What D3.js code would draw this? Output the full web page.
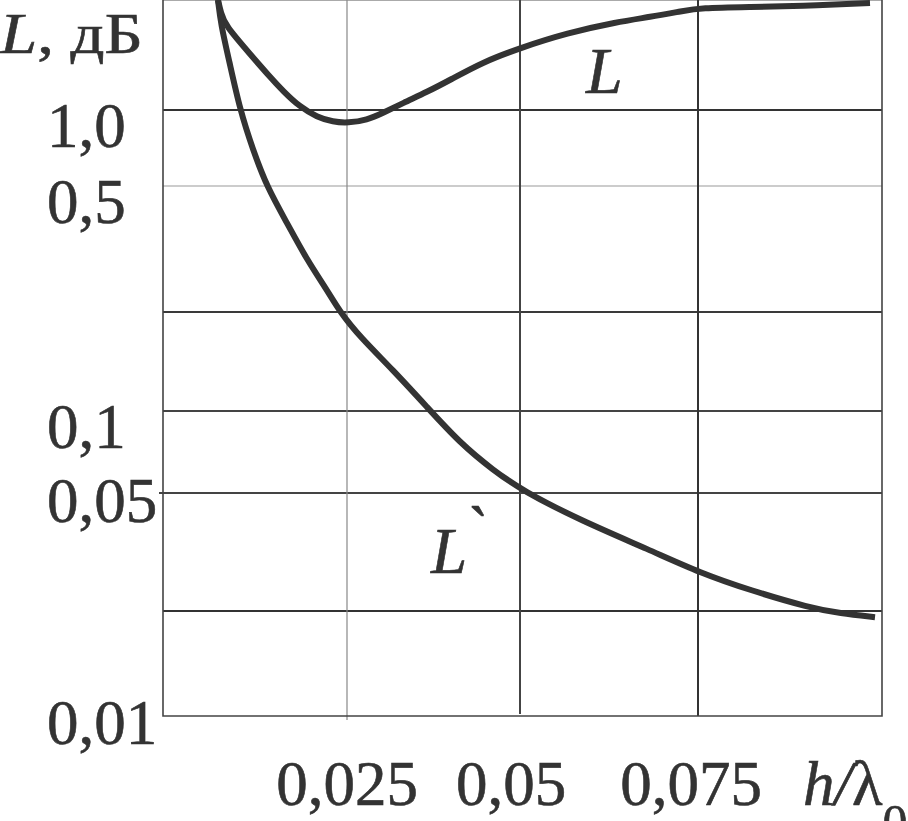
<!DOCTYPE html>
<html>
<head>
<meta charset="utf-8">
<script src="https://cdn.jsdelivr.net/npm/d3@7"></script>
<style>
  html, body { margin: 0; padding: 0; background: #fff; }
  svg { display: block; }
  text { font-family: "Liberation Serif", "Times New Roman", serif; fill: #333; stroke: #333; stroke-width: 0.6; }
</style>
</head>
<body>
<svg id="chart" width="908" height="821"></svg>
<script>
// ---- data ----
const xTicks = [0.025, 0.05, 0.075];
const xTickLabels = ["0,025", "0,05", "0,075"];
const yGridValues = [1, 0.5, 0.2, 0.1, 0.05, 0.02];
const yTickValues = [1, 0.5, 0.1, 0.05, 0.01];
const yTickLabels = ["1,0", "0,5", "0,1", "0,05", "0,01"];

// curve L (h/λ0, dB)
const hL = [0.00747, 0.00788, 0.00842, 0.01182, 0.01454, 0.01630, 0.01861, 0.02092, 0.02310, 0.02515, 0.02789, 0.03020, 0.03309, 0.03656, 0.03989, 0.04465, 0.05, 0.05660, 0.06362, 0.06826, 0.07289, 0.07527, 0.08207, 0.08886, 0.09837];
const vL = [2.73, 2.424, 2.173, 1.667, 1.352, 1.190, 1.028, 0.938, 0.897, 0.888, 0.913, 0.973, 1.066, 1.179, 1.315, 1.550, 1.761, 2.020, 2.233, 2.338, 2.470, 2.538, 2.561, 2.585, 2.656];

// curve L` (h/λ0, dB)
const hL2 = [0.00747, 0.00788, 0.00897, 0.01046, 0.01223, 0.01413, 0.01685, 0.01957, 0.02228, 0.02405, 0.02688, 0.03165, 0.03656, 0.04133, 0.04610, 0.05042, 0.05843, 0.06826, 0.07527, 0.08207, 0.09022, 0.09429, 0.09905];
const vL2 = [2.73, 2.173, 1.578, 1.0, 0.694, 0.4965, 0.382, 0.292, 0.2347, 0.2, 0.168, 0.1332, 0.1028, 0.0763, 0.0607, 0.0509, 0.0405, 0.0321, 0.0269, 0.0235, 0.0205, 0.0197, 0.0192];

// ---- scales (hand-drawn log grid: polylinear log scale) ----
const x = d3.scaleLinear()
  .domain([0, 0.025, 0.05, 0.075, 0.1])
  .range([163, 347, 520, 698, 882]);
const y = d3.scaleLog()
  .domain([0.01, 0.02, 0.05, 0.1, 0.2, 0.5, 1, 2.73])
  .range([716, 611, 493, 411, 312, 186, 110, 0]);

const svg = d3.select("#chart");
const pLeft = x(0), pRight = x(0.1), pTop = y(2.73), pBottom = y(0.01);

// top border (light)
svg.append("line").attr("x1", pLeft).attr("x2", pRight).attr("y1", pTop + 0.5).attr("y2", pTop + 0.5)
  .attr("stroke", "#aaa").attr("stroke-width", 1.2);

// horizontal grid
const hStyle = { 1: ["#333", 2], 0.5: ["#999", 1.2], 0.2: ["#3a3a3a", 2], 0.1: ["#444", 2], 0.05: ["#444", 2], 0.02: ["#333", 2] };
svg.append("g").selectAll("line").data(yGridValues).join("line")
  .attr("x1", d => d === 0.05 ? pLeft - 4 : pLeft)
  .attr("x2", pRight)
  .attr("y1", d => y(d)).attr("y2", d => y(d))
  .attr("stroke", d => hStyle[d][0]).attr("stroke-width", d => hStyle[d][1]);

// vertical grid
const vStyle = { 0.025: ["#888", 1.2, 4], 0.05: ["#444", 2, -2], 0.075: ["#333", 2, 0] };
svg.append("g").selectAll("line").data(xTicks).join("line")
  .attr("x1", d => x(d)).attr("x2", d => x(d))
  .attr("y1", pTop).attr("y2", d => pBottom + vStyle[d][2])
  .attr("stroke", d => vStyle[d][0]).attr("stroke-width", d => vStyle[d][1]);

// frame: left, right, bottom
svg.append("path")
  .attr("d", `M${pLeft},${pTop}V${pBottom}H${pRight}V${pTop}`)
  .attr("fill", "none").attr("stroke", "#444").attr("stroke-width", 1.6);

// curves
const line = d3.line().x(d => x(d[0])).y(d => y(d[1])).curve(d3.curveBasis);
const dataL = hL.map((h, i) => [h, vL[i]]);
const dataL2 = hL2.map((h, i) => [h, vL2[i]]);
[dataL, dataL2].forEach(dat => {
  svg.append("path").datum(dat).attr("d", line)
    .attr("fill", "none").attr("stroke", "#333").attr("stroke-width", 6)
    .attr("stroke-linecap", "butt").attr("stroke-linejoin", "round");
});

// y tick labels
const yNudge = { "0,05": -8, "0,01": -9 };
svg.append("g").selectAll("text").data(yTickValues).join("text")
  .attr("x", 47)
  .attr("y", (d, i) => y(d) + 37 + (yNudge[yTickLabels[i]] || 0))
  .attr("font-size", 63)
  .text((d, i) => yTickLabels[i]);

// x tick labels
const xNudge = { "0,05": -9, "0,075": -7 };
svg.append("g").selectAll("text").data(xTicks).join("text")
  .attr("x", (d, i) => x(d) + (xNudge[xTickLabels[i]] || 0))
  .attr("y", 805)
  .attr("text-anchor", "middle")
  .attr("font-size", 63)
  .text((d, i) => xTickLabels[i]);

// x axis title h/λ0
const xt = svg.append("text").attr("x", 803).attr("y", 805).attr("font-size", 63);
xt.append("tspan").attr("font-style", "italic").text("h/");
xt.append("tspan").text("λ");
xt.append("tspan").attr("font-size", 50).attr("dy", 34).text("0");

// y axis title L, дБ
const yt = svg.append("text").attr("x", 0).attr("y", 53).attr("font-size", 58)
  .attr("textLength", 143).attr("lengthAdjust", "spacingAndGlyphs");
yt.append("tspan").attr("font-style", "italic").text("L");
yt.append("tspan").text(", дБ");

// curve labels
svg.append("text").attr("x", 586).attr("y", 93).attr("font-size", 66)
  .attr("font-style", "italic").text("L");
const l2 = svg.append("text").attr("x", 431).attr("y", 573).attr("font-size", 65).attr("font-style", "italic");
l2.append("tspan").text("L");
l2.append("tspan").attr("dx", -5).attr("dy", -21).text("`");
</script>
</body>
</html>
